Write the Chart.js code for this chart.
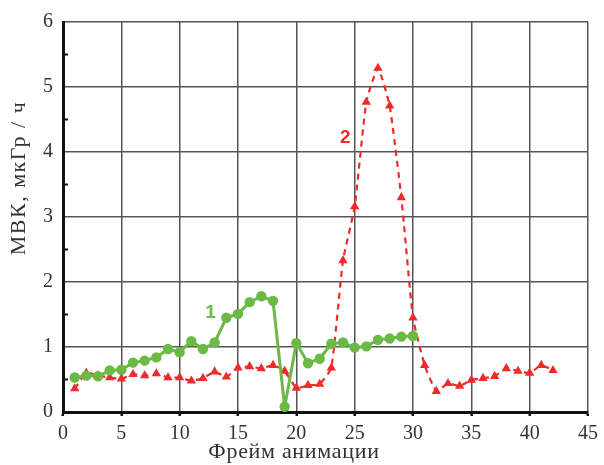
<!DOCTYPE html>
<html>
<head>
<meta charset="utf-8">
<script src="https://cdn.jsdelivr.net/npm/chart.js@4/dist/chart.umd.min.js"></script>
<style>
  html, body { margin: 0; padding: 0; background: #fff; }
  #wrap { width: 604px; height: 465px; }
</style>
</head>
<body>
<div id="wrap"><canvas id="graph"></canvas></div>
<script>
// кривая 1
const frames1 = [1,2,3,4,5,6,7,8,9,10,11,12,13,14,15,16,17,18,19,20,21,22,23,24,25,26,27,28,29,30];
const mvk1 = [0.53,0.56,0.55,0.64,0.65,0.76,0.79,0.84,0.97,0.92,1.09,0.97,1.07,1.45,1.51,1.69,1.78,1.71,0.08,1.06,
              0.75,0.82,1.05,1.07,0.99,1.01,1.11,1.13,1.16,1.17];
// кривая 2
const frames2 = [1,2,3,4,5,6,7,8,9,10,11,12,13,14,15,16,17,18,19,20,21,22,23,24,25,26,27,28,29,30,
                 31,32,33,34,35,36,37,38,39,40,41,42];
const mvk2 = [0.36,0.60,0.56,0.53,0.51,0.58,0.56,0.59,0.53,0.53,0.48,0.52,0.62,0.54,0.68,0.70,0.67,0.72,0.63,0.37,
              0.41,0.43,0.68,2.33,3.16,4.77,5.29,4.71,3.30,1.45,
              0.72,0.32,0.44,0.40,0.49,0.52,0.55,0.67,0.63,0.60,0.72,0.64];
const xTicks = [0,5,10,15,20,25,30,35,40,45];
const yTicks = [0,1,2,3,4,5,6];
const yMinor = [0.5,1.5,2.5,3.5,4.5,5.5];

const green = '#6aba45';
const red = '#ee2b2b';
const serif = 'Liberation Serif';

const toPts = (xs, ys) => xs.map((x, i) => ({x: x, y: ys[i]}));

// подписи кривых, оси, малые деления
const extras = {
  id: 'extras',
  afterDraw(chart) {
    const ctx = chart.ctx;
    const xs = chart.scales.x, ys = chart.scales.y;
    const a = chart.chartArea;
    ctx.save();
    // минорные деления по Y
    ctx.strokeStyle = '#111';
    ctx.lineWidth = 2;
    yMinor.forEach(v => {
      const py = ys.getPixelForValue(v);
      ctx.beginPath();
      ctx.moveTo(a.left, py);
      ctx.lineTo(a.left + 5, py);
      ctx.stroke();
    });
    ctx.font = 'bold 19px "Liberation Sans"';
    ctx.textAlign = 'center';
    ctx.textBaseline = 'middle';
    ctx.fillStyle = green;
    ctx.fillText('1', xs.getPixelForValue(12.65), ys.getPixelForValue(1.53));
    ctx.fillStyle = red;
    ctx.fillText('2', xs.getPixelForValue(24.2), ys.getPixelForValue(4.22));
    // названия осей
    ctx.fillStyle = '#333';
    ctx.font = '22px "' + serif + '"';
    ctx.letterSpacing = '0.7px';
    ctx.fillText('Фрейм анимации', a.left + 0.44 * (a.right - a.left), 452);
    ctx.letterSpacing = '1.5px';
    ctx.translate(19, a.top + 0.4 * (a.bottom - a.top));
    ctx.rotate(-Math.PI / 2);
    ctx.fillText('МВК, мкГр / ч', 0, 0);
    ctx.restore();
  }
};

const graph = document.getElementById('graph').getContext('2d');

let myChart = new Chart(graph, {
  type: 'line',
  data: {
    datasets: [
      {
        label: '1',
        data: toPts(frames1, mvk1),
        borderColor: green,
        backgroundColor: green,
        borderWidth: 3,
        pointRadius: 3.7,
        pointStyle: 'circle',
        tension: 0,
      },
      {
        label: '2',
        data: toPts(frames2, mvk2),
        borderColor: red,
        backgroundColor: red,
        borderWidth: 2.2,
        borderDash: [6, 5],
        pointRadius: 3.2,
        pointStyle: 'triangle',
        tension: 0.15,
      }
    ]
  },
  options: {
    responsive: true,
    maintainAspectRatio: false,
    animation: false,
    layout: { padding: { top: 20, right: 14, left: 0, bottom: 0 } },
    plugins: {
      legend: { display: false },
      tooltip: { enabled: false },
    },
    scales: {
      x: {
        type: 'linear',
        min: 0,
        max: 45,
        afterBuildTicks: s => { s.ticks = xTicks.map(v => ({value: v})); },
        afterFit: s => { s.height = 53; },
        grid: { color: '#555', lineWidth: 1.5, drawTicks: true, tickLength: 4, tickColor: '#111', tickWidth: 2.5 },
        border: { color: '#111', width: 3 },
        ticks: { color: '#333', font: { family: serif, size: 20 }, padding: 6, maxRotation: 0 },
      },
      y: {
        min: 0,
        max: 6,
        afterBuildTicks: s => { s.ticks = yTicks.map(v => ({value: v})); },
        afterFit: s => { s.width = 63; },
        grid: { color: '#555', lineWidth: 1.5, drawTicks: false },
        border: { color: '#111', width: 3 },
        ticks: { color: '#333', font: { family: serif, size: 20 }, padding: 10 },
      }
    }
  },
  plugins: [extras]
});
</script>
</body>
</html>
